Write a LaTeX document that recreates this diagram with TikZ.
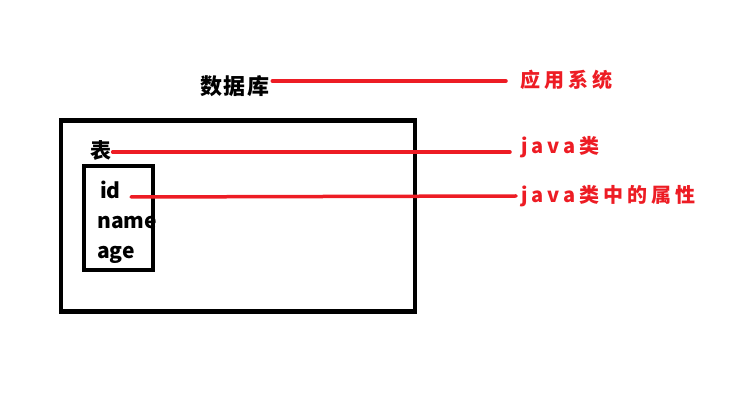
\documentclass[tikz,border=0pt]{standalone}
\usepackage{fontspec}
\setmainfont{Noto Sans CJK SC}
\usetikzlibrary{calc, positioning}

\definecolor{redline}{RGB}{237,28,36}

\begin{document}
\begin{tikzpicture}[x=1pt, y=-1pt,
        box/.style={draw=black, line width=4.5pt},
        link/.style={draw=redline, line width=3.5pt, line cap=round},
        blacktext/.style={font=\fontsize{21}{22}\selectfont\bfseries, inner sep=1pt},
        redtext/.style={font=\fontsize{20}{22}\selectfont\bfseries\addfontfeatures{LetterSpace=20}, text=redline, anchor=west, inner sep=1pt}]
            \useasboundingbox (0,0) rectangle (736,403);
            % database and tables
            \draw[box] (61,120.5) rectangle (415,311.5);
            \draw[box] (84,166) rectangle (153,270);
            \node[blacktext, font=\fontsize{22}{22}\selectfont\bfseries\addfontfeatures{LetterSpace=5}] (db) at (235,86) {数据库};
            \node[blacktext] (tab) at (101,151) {表};
            \node[blacktext, anchor=west] (id) at (99,190) {id};
            \node[blacktext, anchor=west] (name) at (96,223) {name};
            \node[blacktext, anchor=west] (age) at (96,255) {age};
            % what they map to
            \node[redtext] (app) at (519,80) {应用系统};
            \node[redtext] (cls) at (520,147) {java类};
            \node[redtext] (attr) at (520,196) {java类中的属性};
            \coordinate (appEnd) at (506,81);
            \coordinate (clsEnd) at (510,152);
            \coordinate (idStart) at (131,197);
            \coordinate (attrEnd) at (516,196);
            \draw[link] ($(db.east)+(2,-5)$) -- (appEnd);
            \draw[link] (tab.east |- clsEnd) -- (clsEnd);
            \draw[link] (idStart) -- (attrEnd);
        \end{tikzpicture}
\end{document}
